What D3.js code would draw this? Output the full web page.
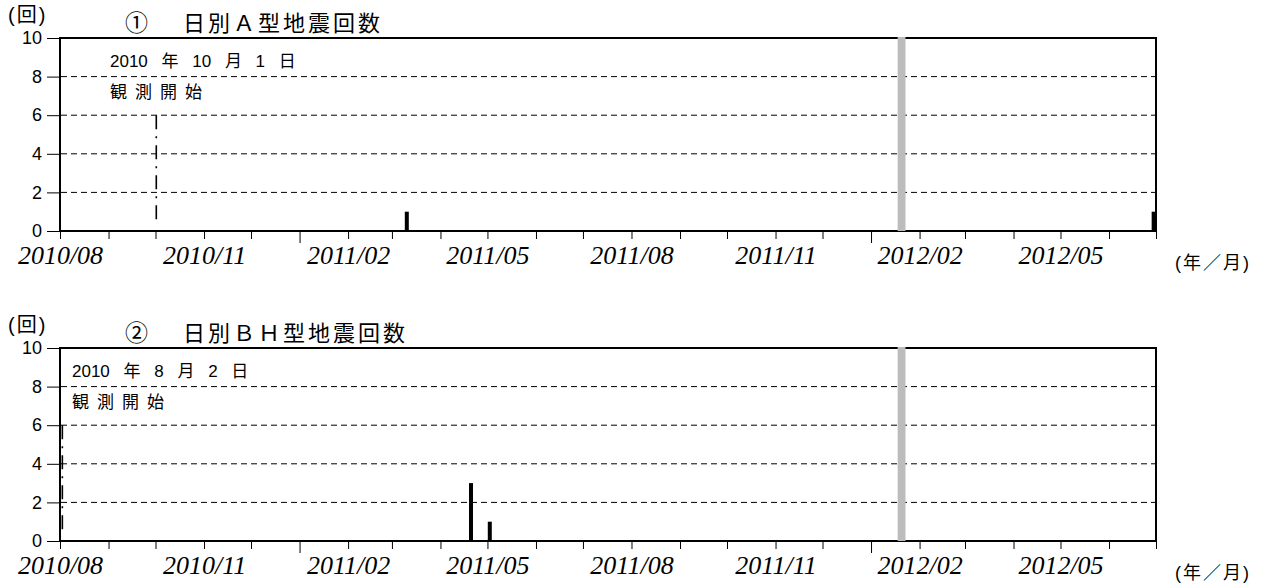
<!DOCTYPE html>
<html lang="ja">
<head>
<meta charset="utf-8">
<script src="https://cdn.jsdelivr.net/npm/d3@7"></script>
<style>
  html, body { margin: 0; padding: 0; background: #fff; }
  svg { display: block; }
</style>
</head>
<body>
<svg id="chart" width="1272" height="583"></svg>
<script>
// ---- data -------------------------------------------------------------
const panelNumbers = ["①", "②"];
const panelTitles = ["日別Ａ型地震回数", "日別ＢＨ型地震回数"];
const startDates = ["2010-10-01", "2010-08-02"];
const startLabels = ["2010 年 10 月 1 日", "2010 年 8 月 2 日"];
const startNote = "観測開始";
// daily counts: [date, count]
const dailyA = [["2011-03-10", 1], ["2012-06-29", 1]];
const dailyBH = [["2011-04-20", 3], ["2011-05-02", 1]];
const gapPeriod = ["2012-01-18", "2012-01-23"];   // shaded period
const dateDomain = ["2010-08-01", "2012-07-01"];
const yTicks = [0, 2, 4, 6, 8, 10];
const gridValues = [2, 4, 6, 8];
const xTickLabels = ["2010/08", "2010/11", "2011/02", "2011/05",
                     "2011/08", "2011/11", "2012/02", "2012/05"];
const yUnit = "(回)";
const xUnit = "(年／月)";
const markerRange = [0.5, 6];

// ---- layout -----------------------------------------------------------
const parseDay = d3.timeParse("%Y-%m-%d");
const parseMonth = d3.timeParse("%Y/%m");
const left = 60, right = 1156;
const panelTops = [38, 348];
const panelHeight = 193;
const noteX = [110, 72];
const sansFont = "'Liberation Sans', Arial, 'Noto Sans CJK JP', sans-serif";
const cjkFont = "'Noto Sans CJK JP', 'Liberation Sans', sans-serif";

const svg = d3.select("#chart");
const series = [dailyA, dailyBH];

const x = d3.scaleTime()
  .domain(dateDomain.map(parseDay))
  .range([left, right]);

const months = d3.timeMonth.range(parseDay(dateDomain[0]),
                                  d3.timeDay.offset(parseDay(dateDomain[1]), 1));

function dayCenter(d) {
  return (x(d) + x(d3.timeDay.offset(d, 1))) / 2;
}

series.forEach((data, i) => {
  const top = panelTops[i];
  const bottom = top + panelHeight;
  const y = d3.scaleLinear().domain([0, 10]).range([bottom, top]);
  const g = svg.append("g");

  // dashed gridlines
  g.append("g").selectAll("line").data(gridValues).join("line")
    .attr("x1", left + 1).attr("x2", right - 1)
    .attr("y1", d => y(d)).attr("y2", d => y(d))
    .attr("stroke", "#000").attr("stroke-width", 1)
    .attr("stroke-dasharray", "6,4");

  // y axis ticks + labels
  const yAxis = g.append("g")
    .attr("transform", `translate(${left},0)`)
    .call(d3.axisLeft(y).tickValues(yTicks).tickSize(13).tickPadding(5));
  yAxis.select(".domain").remove();
  yAxis.selectAll("line").attr("stroke", "#000").attr("stroke-width", 1);
  yAxis.selectAll("text")
    .attr("font-family", sansFont).attr("font-size", 18)
    .attr("dy", "0.32em")
    .attr("fill", "#000");

  // monthly tick marks (January marks longer)
  const xTicks = g.append("g")
    .attr("transform", `translate(0,${bottom})`)
    .call(d3.axisBottom(x).tickValues(months).tickSizeInner(7)
      .tickSizeOuter(0).tickFormat(""));
  xTicks.select(".domain").remove();
  xTicks.selectAll(".tick line")
    .attr("stroke", "#000").attr("stroke-width", 1)
    .attr("y2", d => d.getMonth() === 0 ? 12 : 8);

  // month labels
  const xLabels = g.append("g")
    .attr("transform", `translate(0,${bottom})`)
    .call(d3.axisBottom(x).tickValues(xTickLabels.map(parseMonth))
      .tickSize(0).tickPadding(0).tickFormat(d3.timeFormat("%Y/%m")));
  xLabels.select(".domain").remove();
  xLabels.selectAll("text")
    .attr("dy", null).attr("y", 33)
    .attr("font-family", "'Liberation Serif', 'Times New Roman', serif")
    .attr("font-style", "italic").attr("font-size", 26)
    .attr("fill", "#000");

  // start-of-observation marker
  const startDate = parseDay(startDates[i]);
  g.append("line")
    .attr("x1", dayCenter(startDate)).attr("x2", dayCenter(startDate))
    .attr("y1", y(markerRange[1])).attr("y2", y(markerRange[0]))
    .attr("stroke", "#000").attr("stroke-width", 1.6)
    .attr("stroke-dasharray", "14,7,2,7");

  g.append("text")
    .attr("x", noteX[i]).attr("y", top + 29)
    .attr("font-family", sansFont).attr("font-size", 17)
    .attr("word-spacing", "9px")
    .text(startLabels[i]);
  g.append("text")
    .attr("x", noteX[i]).attr("y", top + 60)
    .attr("font-family", cjkFont).attr("font-size", 17)
    .attr("letter-spacing", "8px")
    .text(startNote);

  // daily count bars
  g.append("g").selectAll("rect").data(data).join("rect")
    .attr("x", d => dayCenter(parseDay(d[0])) - 2)
    .attr("width", 4)
    .attr("y", d => y(d[1]))
    .attr("height", d => y(0) - y(d[1]))
    .attr("fill", "#000");

  // frame
  g.append("rect")
    .attr("x", left).attr("y", top)
    .attr("width", right - left).attr("height", bottom - top)
    .attr("fill", "none").attr("stroke", "#000").attr("stroke-width", 2);

  // shaded period
  const g0 = parseDay(gapPeriod[0]), g1 = parseDay(gapPeriod[1]);
  g.append("rect")
    .attr("x", x(g0)).attr("width", x(g1) - x(g0))
    .attr("y", top - 1).attr("height", bottom - top + 1)
    .attr("fill", "#bcbcbc");

  // titles and units
  g.append("text")
    .attr("x", 8).attr("y", top - 16)
    .attr("font-family", sansFont).attr("font-size", 20)
    .attr("letter-spacing", "2px")
    .text(yUnit);
  g.append("text")
    .attr("x", 125).attr("y", top - 7)
    .attr("font-family", cjkFont).attr("font-size", 23)
    .text(panelNumbers[i]);
  g.append("text")
    .attr("x", 183).attr("y", top - 7)
    .attr("font-family", cjkFont).attr("font-size", 22)
    .attr("letter-spacing", "3px")
    .text(panelTitles[i]);
  g.append("text")
    .attr("x", 1175).attr("y", bottom + 38)
    .attr("font-family", sansFont).attr("font-size", 18)
    .attr("letter-spacing", "2px")
    .text(xUnit);
});
</script>
</body>
</html>
